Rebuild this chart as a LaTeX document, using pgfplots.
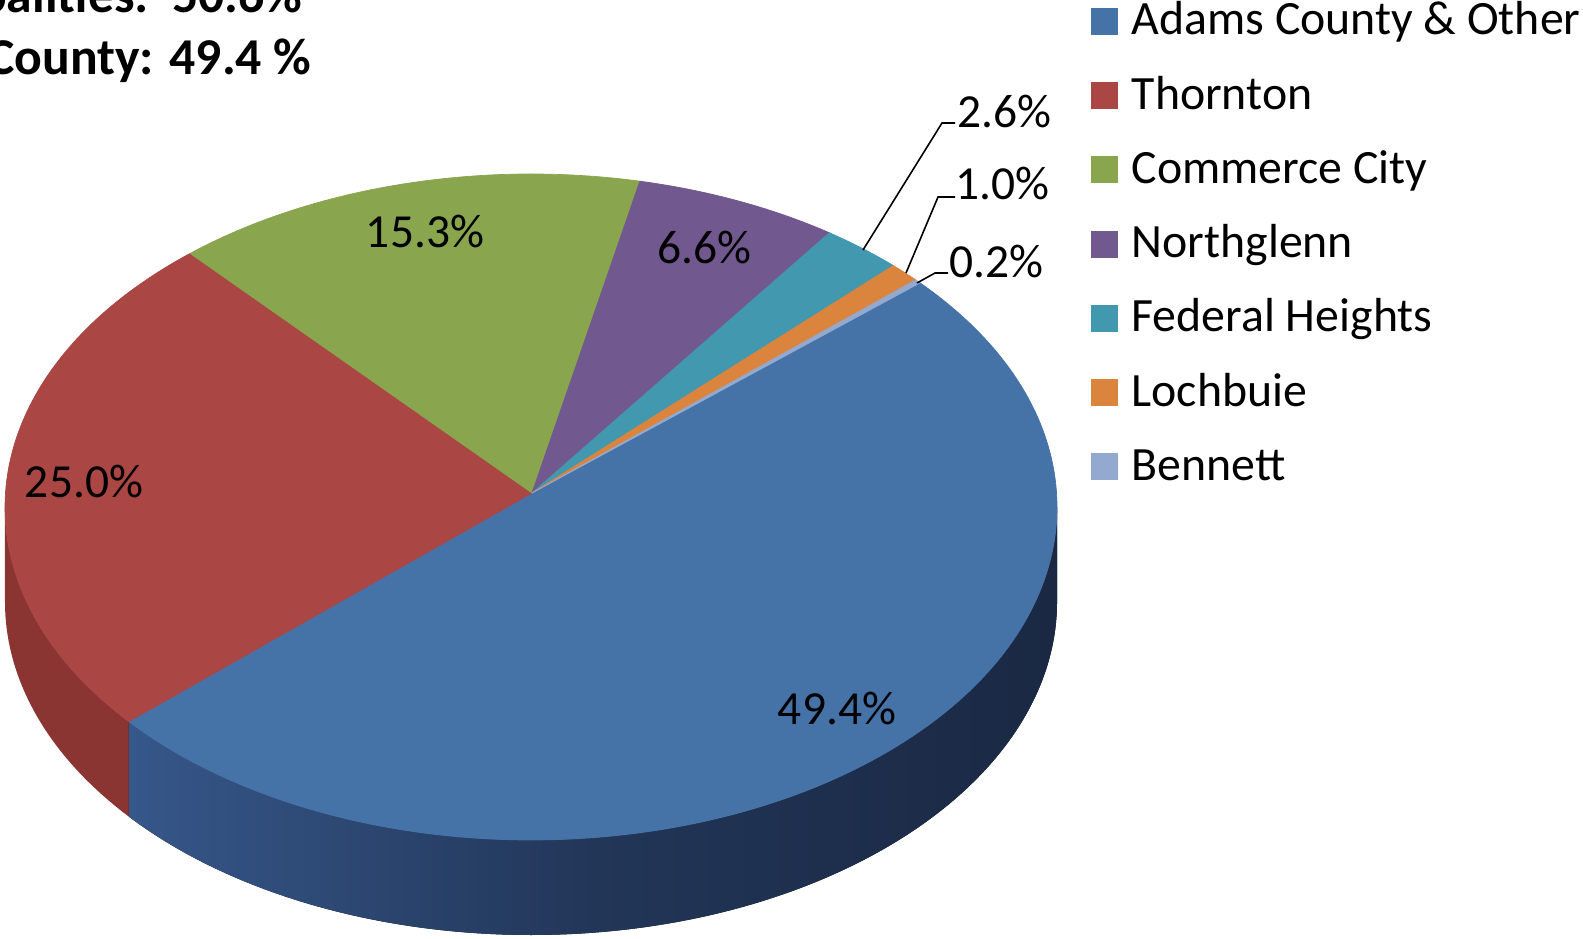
\documentclass[border=0pt]{standalone}
\usepackage{pgfplots}
\pgfplotsset{compat=1.18}
\usepackage{pgfplotstable}
\usepackage{fontspec}
\setmainfont{Carlito}
\definecolor{c0}{HTML}{4572A7}
\definecolor{c1}{HTML}{AA4643}
\definecolor{c2}{HTML}{89A54E}
\definecolor{c3}{HTML}{71588F}
\definecolor{c4}{HTML}{4198AF}
\definecolor{c5}{HTML}{DB843D}
\definecolor{c6}{HTML}{93A9CF}
\definecolor{wallR}{HTML}{8A3532}
\definecolor{wallBL}{HTML}{36578A}
\definecolor{wallBM}{HTML}{223658}
\definecolor{wallBR}{HTML}{1A2843}

\pgfplotstableread{
idx pct
0 49.4
1 25.0
2 15.3
3 6.6
4 2.6
5 1.0
6 0.2
}\piedata

\begin{document}
\begin{tikzpicture}
% ---- angles of the slices from the data
\pgfmathsetmacro\total{0}
\pgfplotsforeachungrouped \i in {0,...,6}{%
  \pgfplotstablegetelem{\i}{pct}\of\piedata
  \pgfmathsetmacro\total{\total+\pgfplotsretval}}
\def\S{40}
\pgfmathsetmacro\cur{\S}
\pgfmathsetmacro\tb{\cur+3*cos(\cur)}
\pgfplotsforeachungrouped \i in {0,...,6}{%
  \expandafter\let\csname s\i\endcsname\tb
  \pgfplotstablegetelem{\i}{pct}\of\piedata
  \pgfmathsetmacro\cur{\cur-(\pgfplotsretval/\total)*360}%
  \pgfmathsetmacro\tb{\cur+3*cos(\cur)}%
  \expandafter\let\csname e\i\endcsname\tb}
\expandafter\let\expandafter\tT\csname e0\endcsname
\path[use as bounding box] (0,0) rectangle (158.3mm,93.8mm);
\begin{axis}[at={(0,0)}, anchor=south west, scale only axis,
  width=158.3mm, height=93.8mm,
  xmin=0, xmax=1583, ymin=0, ymax=938, hide axis, clip=false]
\pgfplotsextra{%
  % side walls
  \fill[wallR] (axis cs:{531+526*cos(\tT)},{431+333*sin(\tT)})
     arc[start angle=\tT, end angle=-180, x radius=52.6mm, y radius=33.3mm]
     -- ++(0,-9.5mm)
     arc[start angle=-180, end angle=\tT, x radius=52.6mm, y radius=33.3mm] -- cycle;
  \fill[left color=wallBL, right color=wallBR, middle color=wallBM]
     (axis cs:1057,431)
     arc[start angle=0, end angle=\tT, x radius=52.6mm, y radius=33.3mm]
     -- ++(0,-9.5mm)
     arc[start angle=\tT, end angle=0, x radius=52.6mm, y radius=33.3mm] -- cycle;
  % top face
  \foreach \k in {0,...,6}{%
    \edef\sa{\csname s\k\endcsname}%
    \edef\ea{\csname e\k\endcsname}%
    \fill[c\k, draw=c\k, line width=0.2pt] (axis cs:532,445)
      -- (axis cs:{531+526*cos(\sa)},{431+333*sin(\sa)})
      arc[start angle=\sa, end angle=\ea, x radius=52.6mm, y radius=33.3mm] -- cycle;
  }
  % leader lines
  \draw[black, line width=0.45pt] (axis cs:863,688) -- (axis cs:942,815) -- (axis cs:955,815);
  \draw[black, line width=0.45pt] (axis cs:906,665) -- (axis cs:938,741) -- (axis cs:955,741);
  \draw[black, line width=0.45pt] (axis cs:917,655) -- (axis cs:935,665) -- (axis cs:948,665);
}
% data labels
\begin{scope}[every node/.style={inner sep=0pt, font=\fontsize{13.5}{16}\selectfont}]
\node at (axis cs:425,706) {15.3\%};
\node at (axis cs:704,690) {6.6\%};
\node at (axis cs:84,456) {25.0\%};
\node at (axis cs:837,229) {49.4\%};
\node at (axis cs:1004,826) {2.6\%};
\node at (axis cs:1002,754) {1.0\%};
\node at (axis cs:996,676) {0.2\%};
\end{scope}
% legend
\pgfplotsextra{%
  \foreach \k/\nm in {0/Adams County \& Other,1/Thornton,2/Commerce City,3/Northglenn,4/Federal Heights,5/Lochbuie,6/Bennett}{%
    \pgfmathsetmacro\by{903-74.25*\k}%
    \fill[c\k] (axis cs:1091,\by) rectangle (axis cs:1118,\by+27);
    \node[anchor=base west, inner sep=0pt, font=\fontsize{13.6}{16}\selectfont] at (axis cs:1131,\by) {\nm};
  }
}
% header
\node[anchor=base east, inner sep=0pt, font=\fontsize{14.7}{17}\selectfont\bfseries] at (axis cs:303,925.5) {Municipalities:~~50.6\%};
\node[anchor=base east, inner sep=0pt, font=\fontsize{14.7}{17}\selectfont\bfseries] at (axis cs:312,863) {Adams County: 49.4 \%};
\end{axis}
\end{tikzpicture}
\end{document}
